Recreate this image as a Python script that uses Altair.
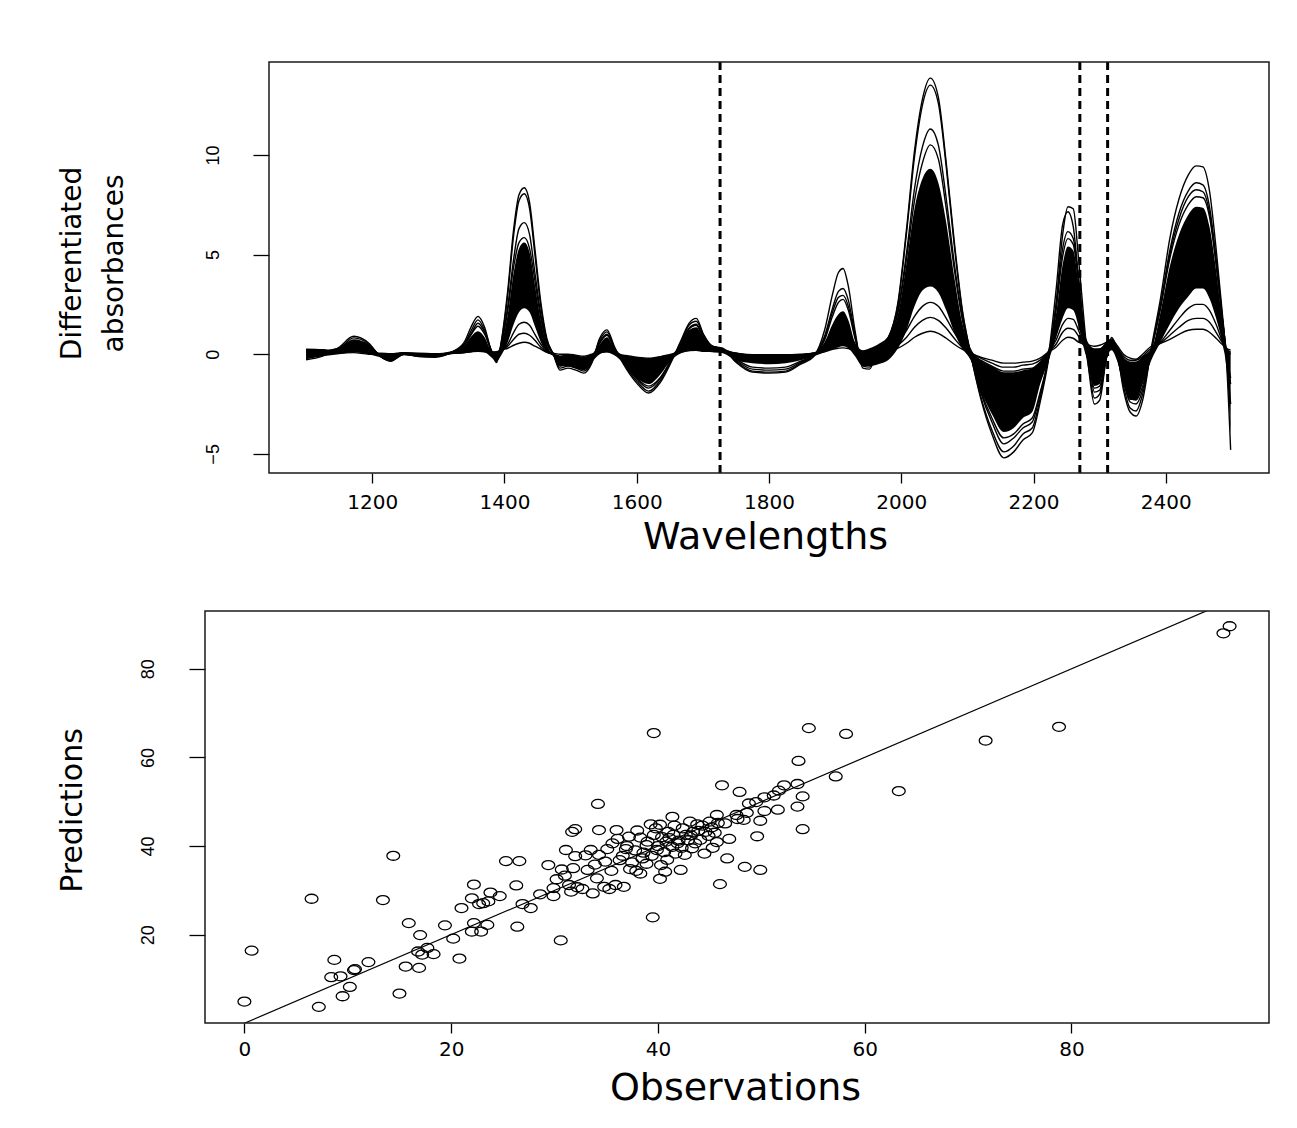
import altair as alt
import pandas as pd

# ---------------- top panel: differentiated NIR spectra ----------------
WAVELENGTHS = [
    1100, 1125, 1150, 1172, 1195, 1212, 1228, 1248, 1270, 1295, 1320, 1340, 1350, 1360, 1370, 1380, 1388, 1396,
    1405, 1414, 1422, 1430, 1438, 1446, 1455, 1464, 1474, 1484, 1496, 1508, 1520, 1532, 1544, 1555, 1566, 1580,
    1600, 1618, 1636, 1652, 1667, 1679, 1690, 1701, 1714, 1730, 1750, 1775, 1800, 1825, 1848, 1868, 1884, 1896,
    1905, 1912, 1920, 1930, 1942, 1952, 1965, 1980, 1995, 2008, 2020, 2032, 2044, 2056, 2068, 2080, 2092, 2105,
    2120, 2137, 2155, 2170, 2184, 2198, 2210, 2222, 2234, 2244, 2252, 2260, 2268, 2276, 2284, 2292, 2300, 2310,
    2318, 2326, 2336, 2346, 2355, 2365, 2378, 2392, 2406, 2420, 2434, 2446, 2456, 2466, 2476, 2485, 2492, 2498,
]

# dense bundle of spectra (upper / lower edge)
BAND_HIGH = [
    0.22, 0.22, 0.35, 0.7, 0.45, 0.05, 0.0, 0.1, 0.08, 0.05, 0.15, 0.45, 0.9, 1.15, 0.85, 0.2, 0.1, 0.6,
    2.0, 4.1, 5.3, 5.6, 5.1, 3.5, 1.7, 0.5, 0.0, -0.1, -0.05, -0.1, -0.15, 0.0, 0.5, 0.85, 0.3, -0.05,
    -0.15, -0.2, -0.1, 0.0, 0.5, 1.2, 1.35, 0.8, 0.4, 0.3, 0.05, -0.05, -0.05, -0.05, 0.0, 0.1, 0.6, 1.5,
    2.0, 2.15, 1.7, 0.6, 0.2, 0.3, 0.5, 0.9, 2.0, 4.6, 7.3, 8.8, 9.3, 8.6, 6.6, 3.9, 1.6, 0.3,
    -0.3, -0.6, -0.9, -0.9, -0.8, -0.7, -0.4, 0.2, 2.0, 4.5, 5.4, 5.2, 3.5, 1.3, 0.5, 0.3, 0.3, 0.6,
    0.75, 0.4, -0.2, -0.4, -0.4, -0.1, 0.2, 2.1, 4.4, 6.0, 7.0, 7.4, 7.35, 6.4, 4.2, 1.8, 0.3, 0.1,
]
BAND_LOW = [
    -0.25, -0.1, 0.0, 0.1, 0.0, -0.15, -0.3, -0.05, -0.12, -0.15, 0.0, 0.05, 0.1, 0.15, 0.1, -0.15, -0.35, 0.0,
    0.6, 1.5, 2.1, 2.3, 2.1, 1.4, 0.6, 0.1, -0.1, -0.6, -0.6, -0.7, -0.8, -0.4, 0.0, 0.1, -0.05, -0.45,
    -1.2, -1.5, -1.0, -0.3, 0.05, 0.15, 0.2, 0.15, 0.1, 0.05, -0.3, -0.45, -0.5, -0.45, -0.3, -0.1, 0.1, 0.25,
    0.35, 0.4, 0.3, -0.1, -0.6, -0.6, -0.5, -0.3, 0.3, 1.2, 2.4, 3.2, 3.4, 3.1, 2.2, 1.1, 0.3, -0.3,
    -1.8, -3.0, -3.9, -3.7, -3.2, -2.9, -1.5, -0.4, 0.8, 1.8, 2.3, 2.2, 1.4, 0.3, -0.6, -1.6, -1.5, -0.2,
    0.2, -0.3, -1.5, -2.3, -2.3, -1.5, -0.3, 0.6, 1.5, 2.3, 2.9, 3.3, 3.3, 2.8, 1.8, 0.6, -0.8, -4.0,
]

# individual spectra standing out of the bundle
SPEC_A = [
    -0.28, -0.1, 0.35, 0.9, 0.55, -0.1, -0.35, 0.0, -0.12, -0.15, 0.1, 0.65, 1.4, 1.9, 1.35, 0.15, -0.42, 0.8,
    3.2, 6.3, 8.0, 8.35, 7.6, 5.3, 2.6, 0.8, 0.0, -0.8, -0.7, -0.8, -0.95, -0.45, 0.8, 1.22, 0.4, -0.5,
    -1.45, -1.95, -1.4, -0.4, 0.7, 1.55, 1.8, 1.0, 0.4, 0.3, -0.4, -0.9, -0.95, -0.9, -0.5, -0.1, 1.2, 3.0,
    4.1, 4.3, 3.4, 1.2, -0.7, -0.75, 0.3, 0.8, 2.6, 6.3, 10.2, 12.8, 13.85, 12.9, 9.6, 5.7, 2.3, 0.0,
    -2.2, -4.0, -5.2, -4.9, -4.3, -3.95, -2.4, -0.4, 2.5, 6.0, 7.4, 7.3, 4.8, 1.8, -0.9, -2.5, -2.3, -0.2,
    0.84, 0.2, -1.8, -2.9, -3.1, -2.3, 0.3, 2.8, 5.8, 7.8, 9.0, 9.45, 9.4, 8.2, 5.3, 2.2, -0.5, -4.8,
]
SPEC_B = [
    0.2, 0.15, 0.3, 0.82, 0.5, -0.1, -0.33, 0.0, -0.1, -0.12, 0.1, 0.55, 1.2, 1.72, 1.2, 0.2, -0.35, 0.75,
    3.0, 6.0, 7.7, 8.05, 7.3, 5.0, 2.4, 0.7, 0.0, -0.7, -0.6, -0.7, -0.85, -0.4, 0.7, 1.12, 0.35, -0.45,
    -1.35, -1.85, -1.3, -0.35, 0.6, 1.45, 1.65, 0.95, 0.4, 0.25, -0.35, -0.85, -0.9, -0.85, -0.45, -0.08, 0.9, 2.3,
    3.15, 3.3, 2.7, 1.0, -0.6, -0.65, 0.3, 0.8, 2.5, 6.1, 9.9, 12.5, 13.5, 12.6, 9.4, 5.5, 2.2, 0.0,
    -2.1, -3.8, -4.9, -4.6, -4.0, -3.7, -2.2, -0.2, 3.2, 6.5, 7.15, 6.4, 3.8, 1.0, -0.8, -2.2, -2.0, -0.2,
    0.6, 0.0, -1.6, -2.7, -2.85, -2.0, 0.2, 2.5, 5.2, 7.1, 8.2, 8.6, 8.5, 7.4, 4.8, 2.0, -0.2, -2.5,
]
SPEC_C = [
    0.1, 0.1, 0.25, 0.72, 0.45, -0.08, -0.3, 0.02, -0.08, -0.1, 0.1, 0.5, 1.05, 1.55, 1.1, 0.2, -0.3, 0.6,
    2.4, 4.8, 6.3, 6.6, 6.0, 4.1, 2.0, 0.6, 0.0, -0.6, -0.5, -0.6, -0.75, -0.35, 0.6, 1.0, 0.3, -0.4,
    -1.25, -1.7, -1.2, -0.3, 0.55, 1.3, 1.5, 0.85, 0.4, 0.25, -0.3, -0.75, -0.8, -0.75, -0.4, -0.05, 0.8, 2.1,
    2.85, 2.95, 2.4, 0.9, -0.5, -0.55, 0.2, 0.7, 2.2, 5.1, 8.3, 10.4, 11.3, 10.5, 7.8, 4.6, 1.9, 0.0,
    -1.9, -3.4, -4.5, -4.2, -3.7, -3.4, -2.0, -0.3, 2.4, 5.3, 6.15, 5.8, 3.8, 1.3, -0.4, -1.9, -1.8, -0.2,
    0.55, 0.0, -1.4, -2.4, -2.5, -1.8, 0.2, 2.4, 5.0, 6.8, 7.9, 8.25, 8.15, 7.1, 4.6, 1.9, 0.0, -1.5,
]
SPEC_D = [
    0.15, 0.12, 0.25, 0.68, 0.42, -0.06, -0.28, 0.03, -0.06, -0.08, 0.1, 0.48, 1.0, 1.4, 1.0, 0.2, -0.25, 0.6,
    2.2, 4.4, 5.6, 5.85, 5.3, 3.7, 1.8, 0.55, 0.0, -0.5, -0.45, -0.55, -0.7, -0.3, 0.55, 0.95, 0.3, -0.35,
    -1.2, -1.6, -1.15, -0.3, 0.5, 1.25, 1.45, 0.8, 0.4, 0.25, -0.25, -0.65, -0.7, -0.65, -0.35, -0.05, 0.7, 1.9,
    2.6, 2.75, 2.2, 0.8, -0.4, -0.5, 0.2, 0.7, 2.1, 4.8, 7.7, 9.6, 10.5, 9.8, 7.3, 4.3, 1.8, 0.0,
    -1.8, -3.2, -4.2, -4.0, -3.5, -3.2, -1.9, -0.3, 2.2, 4.9, 5.8, 5.5, 3.6, 1.3, -0.3, -1.7, -1.6, -0.2,
    0.5, 0.0, -1.3, -2.2, -2.3, -1.6, 0.2, 2.3, 4.8, 6.5, 7.5, 7.9, 7.85, 6.9, 4.5, 1.9, 0.0, -1.2,
]
SPEC_E = [
    0.2, 0.2, 0.15, 0.25, 0.1, 0.0, -0.05, 0.05, 0.0, -0.02, 0.05, 0.12, 0.25, 0.35, 0.25, 0.1, 0.05, 0.2,
    0.5, 1.1, 1.5, 1.6, 1.45, 1.0, 0.5, 0.15, 0.0, -0.2, -0.1, -0.15, -0.2, -0.05, 0.2, 0.3, 0.1, -0.1,
    -0.35, -0.5, -0.35, -0.1, 0.15, 0.35, 0.4, 0.3, 0.25, 0.2, 0.05, -0.1, -0.1, -0.1, -0.05, 0.05, 0.2, 0.5,
    0.7, 0.75, 0.6, 0.2, -0.05, 0.0, 0.1, 0.25, 0.6, 1.2, 1.9, 2.4, 2.6, 2.4, 1.8, 1.1, 0.5, 0.05,
    -0.3, -0.6, -0.85, -0.85, -0.75, -0.7, -0.4, 0.1, 0.7, 1.5, 1.8, 1.75, 1.2, 0.5, 0.2, 0.1, 0.15, 0.45,
    0.6, 0.3, -0.2, -0.4, -0.4, -0.2, 0.2, 0.6, 1.2, 1.8, 2.3, 2.5, 2.5, 2.2, 1.5, 0.7, 0.2, 0.0,
]
SPEC_F = [
    0.15, 0.2, 0.1, 0.15, 0.05, 0.02, 0.0, 0.06, 0.02, 0.0, 0.05, 0.1, 0.18, 0.25, 0.18, 0.1, 0.08, 0.2,
    0.4, 0.75, 1.0, 1.05, 0.95, 0.7, 0.35, 0.1, 0.0, -0.1, -0.05, -0.1, -0.15, -0.05, 0.12, 0.2, 0.05, -0.08,
    -0.25, -0.35, -0.25, -0.05, 0.12, 0.25, 0.3, 0.22, 0.2, 0.15, 0.05, -0.05, -0.05, -0.05, -0.03, 0.05, 0.15, 0.35,
    0.45, 0.5, 0.4, 0.15, 0.0, 0.05, 0.1, 0.2, 0.45, 0.85, 1.35, 1.7, 1.85, 1.7, 1.3, 0.8, 0.35, 0.05,
    -0.2, -0.45, -0.65, -0.65, -0.55, -0.5, -0.3, 0.1, 0.5, 1.1, 1.3, 1.25, 0.9, 0.45, 0.3, 0.2, 0.25, 0.5,
    0.65, 0.35, -0.1, -0.3, -0.3, -0.1, 0.3, 0.55, 0.95, 1.35, 1.7, 1.8, 1.8, 1.6, 1.1, 0.6, 0.25, 0.1,
]
SPEC_G = [
    0.25, 0.22, 0.05, 0.08, 0.0, 0.05, 0.02, 0.08, 0.03, 0.02, 0.05, 0.08, 0.12, 0.15, 0.12, 0.1, 0.12, 0.22,
    0.3, 0.45, 0.55, 0.6, 0.55, 0.4, 0.25, 0.1, 0.05, 0.0, 0.0, -0.05, -0.1, 0.0, 0.08, 0.12, 0.03, -0.05,
    -0.15, -0.2, -0.12, 0.0, 0.1, 0.18, 0.2, 0.15, 0.15, 0.12, 0.05, -0.02, -0.03, -0.03, 0.0, 0.05, 0.12, 0.25,
    0.3, 0.32, 0.28, 0.15, 0.05, 0.08, 0.1, 0.15, 0.3, 0.55, 0.85, 1.05, 1.15, 1.05, 0.8, 0.5, 0.25, 0.05,
    -0.15, -0.3, -0.45, -0.45, -0.4, -0.35, -0.2, 0.1, 0.35, 0.7, 0.85, 0.8, 0.6, 0.5, 0.45, 0.4, 0.45, 0.6,
    0.75, 0.45, 0.0, -0.2, -0.25, 0.0, 0.4, 0.55, 0.75, 1.0, 1.2, 1.25, 1.25, 1.1, 0.8, 0.5, 0.3, 0.2,
]

SELECTED_WAVELENGTHS = [1726, 2270, 2312]
TOP_X_TICKS = [1200, 1400, 1600, 1800, 2000, 2200, 2400]
TOP_Y_TICKS = [-5, 0, 5, 10]
TOP_X_RANGE = [1044, 2556]      # plotting box of the spectra panel
TOP_Y_RANGE = [-5.96, 14.66]

# ---------------- bottom panel: observed vs predicted ----------------
OBSERVATIONS = [
    0.0, 0.7, 6.5, 7.2, 8.7, 8.4, 9.3, 9.5, 10.2, 10.6, 10.7, 12.0, 13.4, 14.4, 15.0, 15.6, 15.9, 16.9,
    17.0, 16.8, 17.2, 17.7, 18.3, 19.4, 20.2, 20.8, 21.0, 22.2, 22.0, 22.7, 23.1, 23.6, 23.8, 24.7, 22.2, 22.9,
    23.5, 22.0, 25.3, 26.6, 26.3, 26.4, 26.9, 27.7, 28.6, 29.4, 29.9, 29.9, 30.2, 30.6, 30.7, 31.0, 31.1, 31.4,
    31.7, 32.0, 32.0, 31.8, 31.6, 32.2, 32.7, 33.2, 33.5, 33.7, 34.1, 34.2, 34.3, 34.3, 34.8, 35.1, 35.3, 35.5,
    35.9, 36.0, 36.1, 36.3, 36.7, 36.9, 37.2, 37.5, 37.9, 38.3, 38.3, 38.5, 38.9, 39.3, 39.6, 39.5, 39.6, 39.8,
    39.9, 40.2, 40.3, 40.7, 40.8, 41.0, 41.4, 41.4, 41.5, 41.7, 41.9, 42.2, 42.4, 42.6, 42.7, 43.1, 43.3, 43.4,
    43.8, 44.1, 44.5, 44.6, 45.0, 45.3, 45.5, 45.7, 46.0, 46.2, 46.5, 46.7, 46.9, 47.6, 47.9, 48.3, 48.4, 48.8,
    95.3, 94.7, 78.8, 71.7, 63.3, 57.2, 54.6, 58.2, 53.6, 53.5, 52.2, 51.7, 54.0, 53.5, 51.6, 50.3, 50.3, 51.2,
    49.5, 48.6, 49.9, 54.0, 49.6, 49.9, 47.7, 45.7,
    37.0, 37.8, 38.6, 39.0, 39.4, 40.0, 40.4, 40.6, 41.1, 41.6, 42.0, 42.3, 42.9, 43.2, 43.6, 43.9, 44.3, 44.9,
    45.2, 45.8, 40.2, 38.0, 36.6, 35.6, 34.9, 33.9, 33.0, 37.3, 38.9, 40.9,
]
PREDICTIONS = [
    4.9, 16.4, 28.1, 3.7, 14.3, 10.4, 10.6, 6.1, 8.2, 12.0, 12.2, 13.8, 27.8, 37.8, 6.7, 12.8, 22.6, 12.5,
    19.9, 16.2, 15.5, 17.0, 15.6, 22.1, 19.1, 14.6, 26.0, 31.3, 28.2, 26.9, 27.1, 27.5, 29.5, 28.7, 22.6, 20.7,
    22.2, 20.7, 36.6, 36.6, 31.1, 21.8, 26.9, 26.0, 29.1, 35.7, 28.7, 30.5, 32.5, 18.7, 34.7, 33.3, 39.1, 31.2,
    43.2, 43.8, 37.7, 35.0, 29.7, 30.7, 30.3, 34.6, 39.1, 29.3, 32.7, 49.5, 43.6, 38.0, 30.8, 39.3, 30.3, 34.4,
    31.2, 43.6, 41.6, 36.8, 30.8, 39.3, 42.1, 36.3, 34.4, 33.8, 41.9, 37.2, 40.2, 44.9, 65.5, 23.9, 42.5, 44.0,
    39.1, 32.6, 35.7, 34.2, 41.0, 43.2, 46.6, 39.8, 42.5, 38.3, 40.6, 34.6, 44.0, 38.0, 42.5, 45.5, 39.5, 43.2,
    44.9, 41.4, 38.3, 43.2, 45.5, 39.6, 43.0, 47.0, 31.4, 53.7, 45.1, 37.2, 41.6, 47.0, 52.2, 45.9, 35.3, 49.6,
    89.6, 88.0, 66.9, 63.8, 52.4, 55.7, 66.6, 65.3, 59.2, 54.0, 53.7, 52.5, 51.2, 48.9, 48.2, 47.9, 51.0, 51.4,
    49.9, 47.5, 45.7, 43.8, 42.2, 34.6, 46.1, 40.9,
    40.0, 39.0, 38.5, 41.0, 37.8, 40.0, 42.0, 38.6, 41.8, 44.6, 41.2, 39.6, 41.3, 42.4, 40.6, 43.4, 44.6, 42.3,
    44.2, 45.2, 44.8, 43.5, 37.8, 40.6, 36.5, 35.8, 37.9, 34.8, 36.0, 36.9,
]
BOTTOM_X_TICKS = [0, 20, 40, 60, 80]
BOTTOM_Y_TICKS = [20, 40, 60, 80]
BOTTOM_X_RANGE = [-3.81, 99.11]
BOTTOM_Y_RANGE = [0.06, 93.04]
IDENTITY_LINE = [-10, 110]   # y = x reference line

# ---------------- data frames ----------------
curves = {"A": SPEC_A, "B": SPEC_B, "C": SPEC_C, "D": SPEC_D, "E": SPEC_E, "F": SPEC_F, "G": SPEC_G}
spec_df = pd.DataFrame(
    [{"w": w, "v": v, "curve": name} for name, vals in curves.items() for w, v in zip(WAVELENGTHS, vals)]
)
band_df = pd.DataFrame({"w": WAVELENGTHS, "lo": BAND_LOW, "hi": BAND_HIGH})
cut_df = pd.DataFrame({"w": SELECTED_WAVELENGTHS})
sc_df = pd.DataFrame({"obs": OBSERVATIONS, "pred": PREDICTIONS})
id_df = pd.DataFrame({"x": IDENTITY_LINE, "y": IDENTITY_LINE})
top_box = pd.DataFrame({"x0": [TOP_X_RANGE[0]], "x1": [TOP_X_RANGE[1]],
                        "y0": [TOP_Y_RANGE[0]], "y1": [TOP_Y_RANGE[1]]})
bot_box = pd.DataFrame({"x0": [BOTTOM_X_RANGE[0]], "x1": [BOTTOM_X_RANGE[1]],
                        "y0": [BOTTOM_Y_RANGE[0]], "y1": [BOTTOM_Y_RANGE[1]]})

FONT = "DejaVu Sans"
TICKFONT = "Liberation Sans"
FRAME = "#1a1a1a"

# ---------------- top chart ----------------
# the panel is as wide as the lower one; its box starts further right
TOP_W, TOP_H = 1064, 411
TOP_SHIFT = 64
px_per_unit = (TOP_W - TOP_SHIFT) / (TOP_X_RANGE[1] - TOP_X_RANGE[0])
xs_top = alt.Scale(domain=[TOP_X_RANGE[0] - TOP_SHIFT / px_per_unit, TOP_X_RANGE[1]], nice=False, zero=False)
ys_top = alt.Scale(domain=TOP_Y_RANGE, nice=False, zero=False)

x_axis_top = alt.Axis(
    values=TOP_X_TICKS, format="d", title="Wavelengths", tickSize=10, labelPadding=25,
    labelFont=FONT, labelFontSize=20, labelBaseline="alphabetic",
    titleFont=FONT, titleFontSize=38, titleFontWeight="normal",
    titleX=560, titleY=75, titleAlign="center", titleBaseline="alphabetic",
)
y_axis_top = alt.Axis(
    values=TOP_Y_TICKS, title=["Differentiated", "absorbances"], offset=-TOP_SHIFT,
    tickSize=16, labelPadding=31,
    labelFont=TICKFONT, labelFontSize=18, labelAngle=270, labelAlign="center", labelBaseline="bottom",
    titleFont=FONT, titleFontSize=28, titleFontWeight="normal", titleAngle=270, titleLineHeight=42,
    titleX=-197, titleY=201, titleAlign="center", titleBaseline="middle",
)

band = alt.Chart(band_df).mark_area(color="black", interpolate="monotone", opacity=1).encode(
    x=alt.X("w:Q", scale=xs_top, axis=x_axis_top),
    y=alt.Y("lo:Q", scale=ys_top, axis=y_axis_top),
    y2="hi:Q",
)
lines = alt.Chart(spec_df).mark_line(color="black", strokeWidth=1.4, interpolate="monotone").encode(
    x=alt.X("w:Q", scale=xs_top),
    y=alt.Y("v:Q", scale=ys_top),
    detail="curve:N",
)
cuts = alt.Chart(cut_df).mark_rule(color="black", strokeWidth=3, strokeDash=[8, 5]).encode(
    x=alt.X("w:Q", scale=xs_top)
)
frame_top = alt.Chart(top_box).mark_rect(
    filled=False, color=FRAME, fillOpacity=0, strokeWidth=1.5
).encode(
    x=alt.X("x0:Q", scale=xs_top), x2="x1:Q",
    y=alt.Y("y0:Q", scale=ys_top), y2="y1:Q",
)
top = alt.layer(band, lines, cuts, frame_top).properties(width=TOP_W, height=TOP_H)

# ---------------- bottom chart ----------------
xs_bot = alt.Scale(domain=BOTTOM_X_RANGE, nice=False, zero=False)
ys_bot = alt.Scale(domain=BOTTOM_Y_RANGE, nice=False, zero=False)

x_axis_bot = alt.Axis(
    values=BOTTOM_X_TICKS, format="d", title="Observations", tickSize=10, labelPadding=22,
    labelFont=FONT, labelFontSize=20, labelBaseline="alphabetic",
    titleFont=FONT, titleFontSize=38, titleFontWeight="normal",
    titleX=530, titleY=76, titleAlign="center", titleBaseline="alphabetic",
)
y_axis_bot = alt.Axis(
    values=BOTTOM_Y_TICKS, title="Predictions", tickSize=16, labelPadding=32,
    labelFont=TICKFONT, labelFontSize=18, labelAngle=270, labelAlign="center", labelBaseline="bottom",
    titleFont=FONT, titleFontSize=30, titleFontWeight="normal", titleAngle=270,
    titleX=-133, titleY=199, titleAlign="center", titleBaseline="middle",
)

ELLIPSE = "M -1 0 A 1 0.7 0 1 1 1 0 A 1 0.7 0 1 1 -1 0 Z"
points = alt.Chart(sc_df).mark_point(
    shape=ELLIPSE, size=165, filled=False, color="black", strokeWidth=1.3, opacity=1
).encode(
    x=alt.X("obs:Q", scale=xs_bot, axis=x_axis_bot),
    y=alt.Y("pred:Q", scale=ys_bot, axis=y_axis_bot),
)
ident = alt.Chart(id_df).mark_line(color="black", strokeWidth=1.2, clip=True).encode(
    x=alt.X("x:Q", scale=xs_bot),
    y=alt.Y("y:Q", scale=ys_bot),
)
frame_bot = alt.Chart(bot_box).mark_rect(
    filled=False, color=FRAME, fillOpacity=0, strokeWidth=1.5
).encode(
    x=alt.X("x0:Q", scale=xs_bot), x2="x1:Q",
    y=alt.Y("y0:Q", scale=ys_bot), y2="y1:Q",
)
bottom = alt.layer(ident, points, frame_bot).properties(width=1064, height=412)

chart = alt.vconcat(top, bottom, spacing=52).properties(
    padding={"left": 48, "top": 52, "right": 5, "bottom": 5},
    background="white",
).configure_view(
    stroke="transparent"
).configure_axis(
    domain=False, grid=False, tickColor="black", tickWidth=1.3,
    labelColor="black", titleColor="black",
)

chart.save("out.html", embed_options={"renderer": "svg", "actions": False})
